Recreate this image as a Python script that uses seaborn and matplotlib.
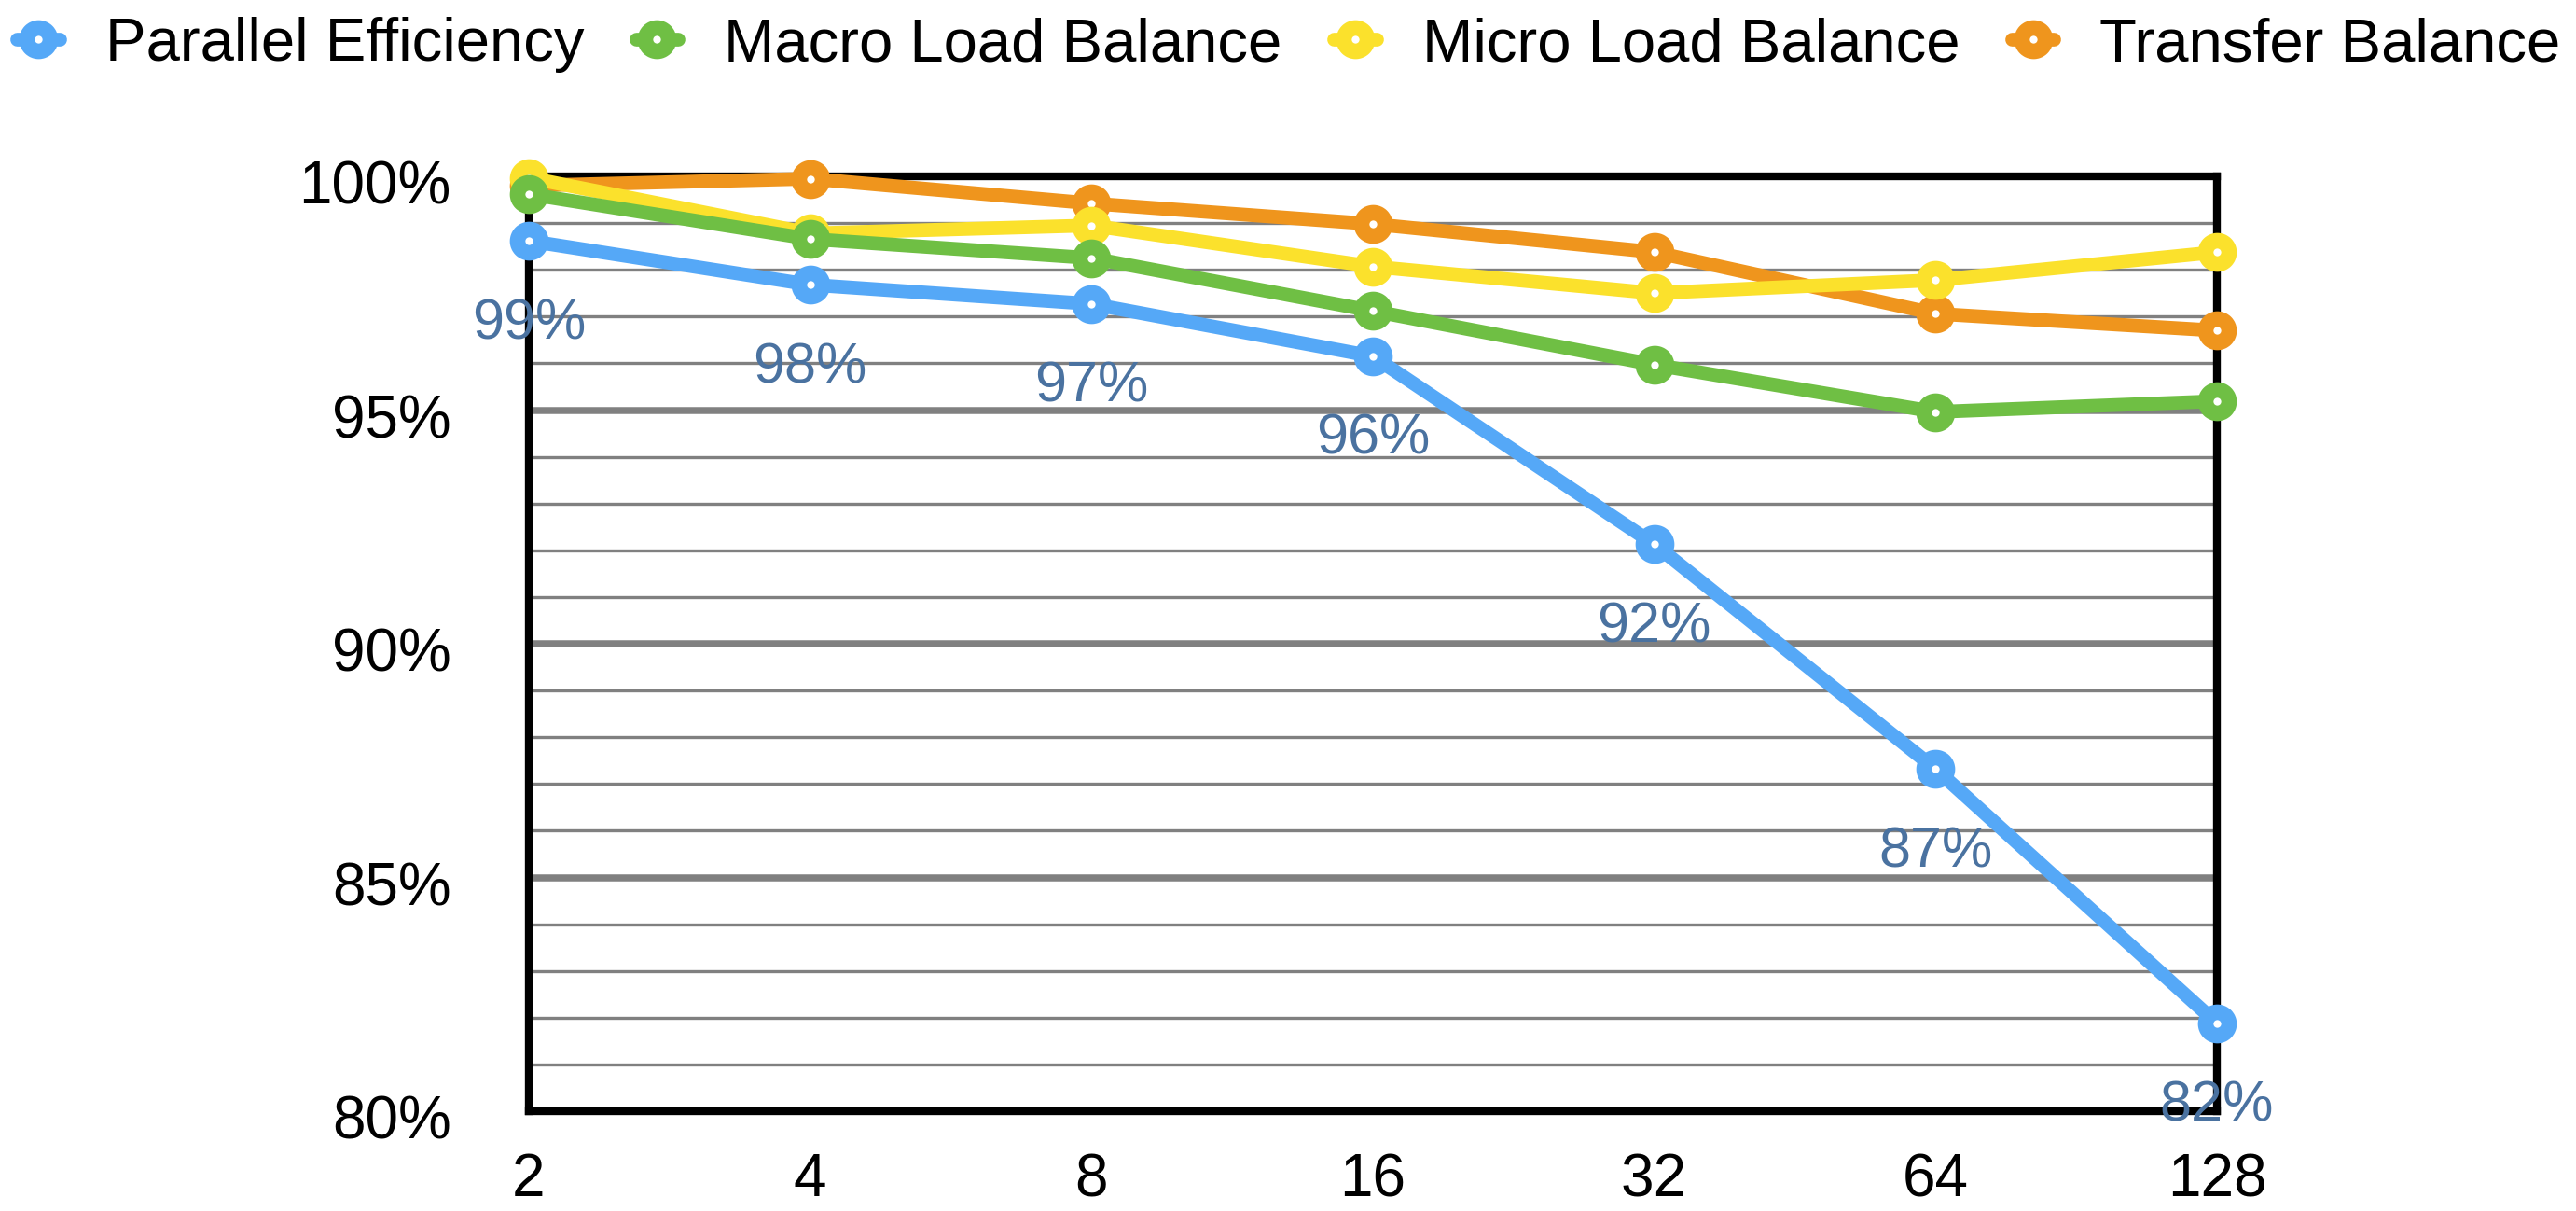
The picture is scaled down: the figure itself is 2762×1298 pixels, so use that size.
import numpy as np
import pandas as pd
import matplotlib
matplotlib.use("Agg")
import matplotlib.pyplot as plt
import matplotlib.transforms as mtransforms
import seaborn as sns
from matplotlib.lines import Line2D
from matplotlib.ticker import MultipleLocator

# ---------------- data ----------------
categories = ["2", "4", "8", "16", "32", "64", "128"]
series_names = ["Parallel Efficiency", "Macro Load Balance",
                "Micro Load Balance", "Transfer Balance"]
parallel_efficiency = [98.62, 97.68, 97.27, 96.15, 92.13, 87.32, 81.88]
macro_load_balance = [99.62, 98.66, 98.25, 97.12, 95.97, 94.96, 95.19]
micro_load_balance = [99.97, 98.78, 98.95, 98.07, 97.50, 97.78, 98.38]
transfer_balance = [99.80, 99.95, 99.42, 98.98, 98.38, 97.06, 96.70]
pe_labels = ["99%", "98%", "97%", "96%", "92%", "87%", "82%"]
y_ticks = [80, 85, 90, 95, 100]
y_tick_labels = ["80%", "85%", "90%", "95%", "100%"]

colors = ["#55a8f7", "#6fbf44", "#fbe12c", "#ef951d"]
label_color = "#4a72a0"

values = [parallel_efficiency, macro_load_balance, micro_load_balance, transfer_balance]
rows = []
for name, vals in zip(series_names, values):
    for i, (c, v) in enumerate(zip(categories, vals)):
        rows.append({"series": name, "cat": c, "pos": i, "value": v})
df = pd.DataFrame(rows)

# ---------------- style ----------------
sns.set_theme(style="white")
plt.rcParams["font.family"] = ["Liberation Sans", "DejaVu Sans"]
plt.rcParams["text.color"] = "black"
plt.rcParams["axes.labelcolor"] = "black"

W, H, DPI = 2762, 1298, 200
fig = plt.figure(figsize=(W / DPI, H / DPI), dpi=DPI)
left, right, bottom, top = 567 / W, 2377 / W, 1 - 1191 / H, 1 - 189 / H
ax = fig.add_axes([left, bottom, right - left, top - bottom])

LW = 5.3
MS = 9.0
MEW = 6.0

# draw in reverse order so that earlier series sit on top
for k, (name, col) in enumerate(reversed(list(zip(series_names, colors)))):
    sub = df[df["series"] == name]
    sns.lineplot(data=sub, x="pos", y="value", ax=ax, color=col, lw=LW,
                 marker="o", markersize=MS, markeredgewidth=MEW,
                 markerfacecolor="white", markeredgecolor=col,
                 errorbar=None, sort=False, legend=False,
                 clip_on=False, zorder=4 + k)

ax.set_xlim(0, len(categories) - 1)
ax.set_ylim(80, 100)
ax.set_xticks(range(len(categories)))
ax.set_xticklabels(categories)
ax.set_yticks(y_ticks)
ax.set_yticklabels(y_tick_labels)
ax.yaxis.set_minor_locator(MultipleLocator(1))
ax.set_xlabel("")
ax.set_ylabel("")

ax.grid(False)
ax.grid(which="major", axis="y", color="#808080", lw=2.7)
ax.grid(which="minor", axis="y", color="#808080", lw=1.2)
ax.set_axisbelow(True)

ax.tick_params(axis="both", which="both", length=0, labelsize=23, colors="black")
ax.tick_params(axis="x", pad=16)
ax.tick_params(axis="y", pad=30)

# y tick labels sit slightly below their gridlines in the reference
shift = mtransforms.ScaledTranslation(0, -6 / DPI, fig.dpi_scale_trans)
for lab in ax.get_yticklabels():
    lab.set_transform(lab.get_transform() + shift)

for s in ax.spines.values():
    s.set_visible(True)
    s.set_color("black")
    s.set_linewidth(3.0)
    s.set_zorder(3)

# data labels for parallel efficiency
for i, (v, lab) in enumerate(zip(parallel_efficiency, pe_labels)):
    ax.annotate(lab, (i, v), xytext=(0, -37.8), textcoords="offset points",
                ha="center", va="baseline", fontsize=22, color=label_color,
                zorder=10, annotation_clip=False)

# legend
handles = [Line2D([], [], color=c, lw=LW, marker="o", markersize=MS,
                  markeredgewidth=MEW, markerfacecolor="white",
                  markeredgecolor=c) for c in colors]
leg = fig.legend(handles, series_names, loc="center left",
                 bbox_to_anchor=(18 / W, 1 - 48 / H), ncol=4, frameon=False,
                 fontsize=23.5, handlelength=0.7, handletextpad=0.75,
                 columnspacing=0.85, borderpad=0, borderaxespad=0)
for t in leg.get_texts():
    t.set_color("black")

fig.savefig("out.png", dpi=DPI)
